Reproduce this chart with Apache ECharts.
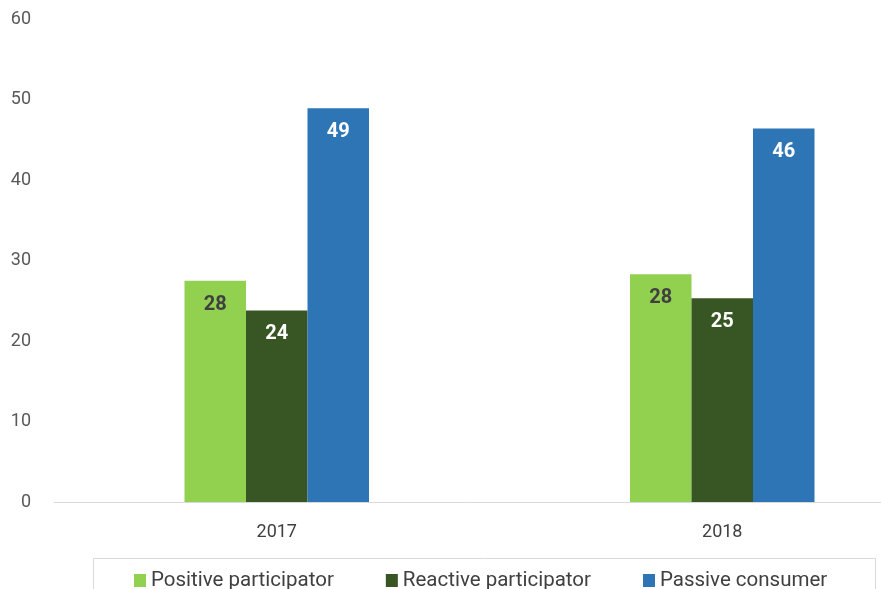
<!DOCTYPE html>
<html><head><meta charset="utf-8">
<script src="https://cdn.jsdelivr.net/npm/echarts@6/dist/echarts.min.js"></script>
<style>html,body{margin:0;padding:0;background:#fff}#c{width:881px;height:589px}</style>
</head><body><div id="c"></div>
<script>
const categories = ['2017', '2018'];
const seriesNames = ['Positive participator', 'Reactive participator', 'Passive consumer'];
const positive = [27.5, 28.3];
const reactive = [23.8, 25.3];
const passive = [48.9, 46.4];
const yTicks = [0, 10, 20, 30, 40, 50, 60];

const FONT = "Roboto,'Noto Sans',sans-serif";
const colors = ['#92d050', '#375623', '#2e75b6'];
const labelColors = ['#404040', '#ffffff', '#ffffff'];
const values = [positive, reactive, passive];

const chart = echarts.init(document.getElementById('c'));
chart.setOption({
  animation: false,
  textStyle: { fontFamily: FONT },
  grid: { left: 54, top: 19, right: -64, height: 483, containLabel: false, outerBoundsMode: 'none' },
  legend: {
    left: 129, top: 565, itemWidth: 12, itemHeight: 13, itemGap: 52,
    icon: 'rect',
    textStyle: { fontFamily: FONT, fontSize: 20.5, color: '#404040' },
    data: seriesNames
  },
  graphic: [{
    type: 'rect', left: 91, top: 556, shape: { width: 782, height: 50 },
    style: { fill: 'none', stroke: '#d9d9d9', lineWidth: 1 }, silent: true
  }],
  xAxis: {
    type: 'category', data: categories,
    axisLine: { lineStyle: { color: '#d9d9d9', width: 1 } },
    axisTick: { show: false },
    axisLabel: { fontFamily: FONT, fontSize: 18, color: '#404040', margin: 21 }
  },
  yAxis: {
    type: 'value', min: yTicks[0], max: yTicks[yTicks.length - 1], interval: 10,
    splitLine: { show: false }, axisLine: { show: false }, axisTick: { show: false },
    axisLabel: { fontFamily: FONT, fontSize: 18, color: '#595959', margin: 23 }
  },
  series: seriesNames.map((n, i) => ({
    name: n, type: 'bar', data: values[i], barWidth: 61.5, barGap: '0%',
    itemStyle: { color: colors[i] },
    label: {
      show: true, position: 'insideTop', distance: 14,
      fontFamily: FONT, fontSize: 20, fontWeight: 'bold', color: labelColors[i],
      formatter: p => Math.round(p.value)
    }
  }))
});
</script></body></html>
